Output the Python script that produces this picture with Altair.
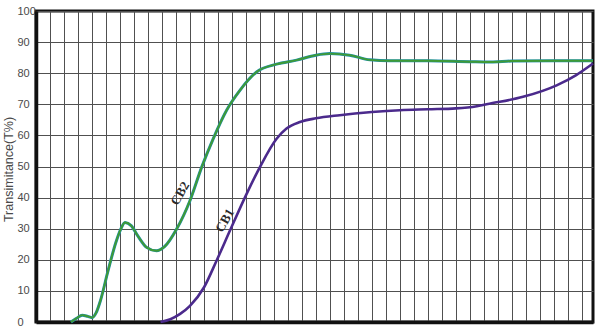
import altair as alt
import pandas as pd

# Grid units along x (no labels in the original), transmittance in %
cb2_x = [2.5, 2.9, 3.3, 3.7, 4.0, 4.3, 4.6, 5.15, 5.7, 6.05, 6.36, 6.8, 7.3, 7.9, 8.6,
         9.2, 10.05, 11.0, 11.84, 12.66, 13.62, 14.57, 15.76, 17.19, 18.62, 20.0,
         21.0, 22.4, 23.86, 25.3, 28.0, 31.0, 32.5, 34.0, 37.0, 39.8]
cb2_y = [0.0, 1.2, 2.2, 1.8, 1.4, 3.0, 6.8, 16.5, 25.5, 29.8, 32.0, 31.0, 27.5, 24.0, 22.9,
         24.3, 29.9, 39.0, 49.8, 58.9, 68.1, 74.5, 80.4, 82.9, 84.2, 85.8,
         86.3, 85.8, 84.3, 84.0, 84.0, 83.7, 83.6, 83.9, 84.0, 84.0]

cb1_x = [8.9, 9.6, 10.3, 11.0, 12.0, 12.9, 13.86, 15.05, 16.0, 17.19, 17.9, 18.86,
         20.0, 21.7, 24.0, 26.0, 28.0, 30.0, 31.5, 32.4, 34.8, 37.2, 38.6, 39.8]
cb1_y = [0.0, 0.9, 2.6, 5.2, 11.1, 19.7, 29.4, 41.2, 49.8, 58.9, 62.2, 64.3,
         65.5, 66.5, 67.5, 68.1, 68.4, 68.7, 69.4, 70.2, 72.4, 76.1, 79.4, 83.1]

label_text = ["CB2", "CB1"]
label_x = [10.3, 13.5]
label_y = [41.3, 32.6]

y_ticks = [0, 10, 20, 30, 40, 50, 60, 70, 80, 90, 100]
x_grid = list(range(1, 40))

cb2 = pd.DataFrame({"x": cb2_x, "y": cb2_y})
cb1 = pd.DataFrame({"x": cb1_x, "y": cb1_y})
labels = pd.DataFrame({"t": label_text, "x": label_x, "y": label_y})

xs = alt.Scale(domain=[0, 39.8], nice=False, zero=False)
ys = alt.Scale(domain=[0, 100], nice=False)

X = alt.X("x:Q", scale=xs,
          axis=alt.Axis(values=x_grid, labels=False, ticks=False, domain=True,
                        domainColor="#111111", domainWidth=3.5,
                        grid=True, gridColor="#505050", gridWidth=1, gridOpacity=1,
                        labelOverlap=False, title=None))
Y = alt.Y("y:Q", scale=ys,
          axis=alt.Axis(values=y_ticks, ticks=False, domain=True,
                        domainColor="#111111", domainWidth=3.5, grid=True,
                        gridColor="#505050", gridWidth=1, gridOpacity=1,
                        labelOverlap=False,
                        labelAlign="left", labelPadding=19, labelFontSize=11,
                        labelFont="Liberation Sans", labelColor="#4a4a4a",
                        title="Transimitance(T%)", titleFontSize=12.5,
                        titleFont="Liberation Sans", titleFontWeight="normal",
                        titleColor="#4a4a4a", titleAngle=270, titleX=-28,
                        titleY=158, titleAlign="center", titleBaseline="middle"))

cb2_under = alt.Chart(cb2).mark_line(color="#2090a8", strokeWidth=3.0,
                                     interpolate="monotone").encode(x=X, y=Y)
cb2_top = alt.Chart(cb2).mark_line(color="#3f9a35", strokeWidth=1.9,
                                   interpolate="monotone").encode(x=X, y=Y)
cb1_line = alt.Chart(cb1).mark_line(color="#4b2a8c", strokeWidth=2.6,
                                    interpolate="monotone").encode(x=X, y=Y)
txt = alt.Chart(labels).mark_text(font="Liberation Serif", fontSize=13,
                                  fontWeight="bold", angle=300, color="#2a2a2a"
                                  ).encode(x=X, y=Y, text="t:N")

chart = alt.layer(cb2_under, cb2_top, cb1_line, txt).properties(
    width=557, height=311,
    autosize=alt.AutoSizeParams(type="none"),
    padding={"left": 36, "top": 11, "right": 7, "bottom": 5},
    view=alt.ViewBackground(stroke="#111111", strokeWidth=3),
).configure(background="white")

chart.save("out.html", embed_options={"renderer": "svg", "actions": False})
